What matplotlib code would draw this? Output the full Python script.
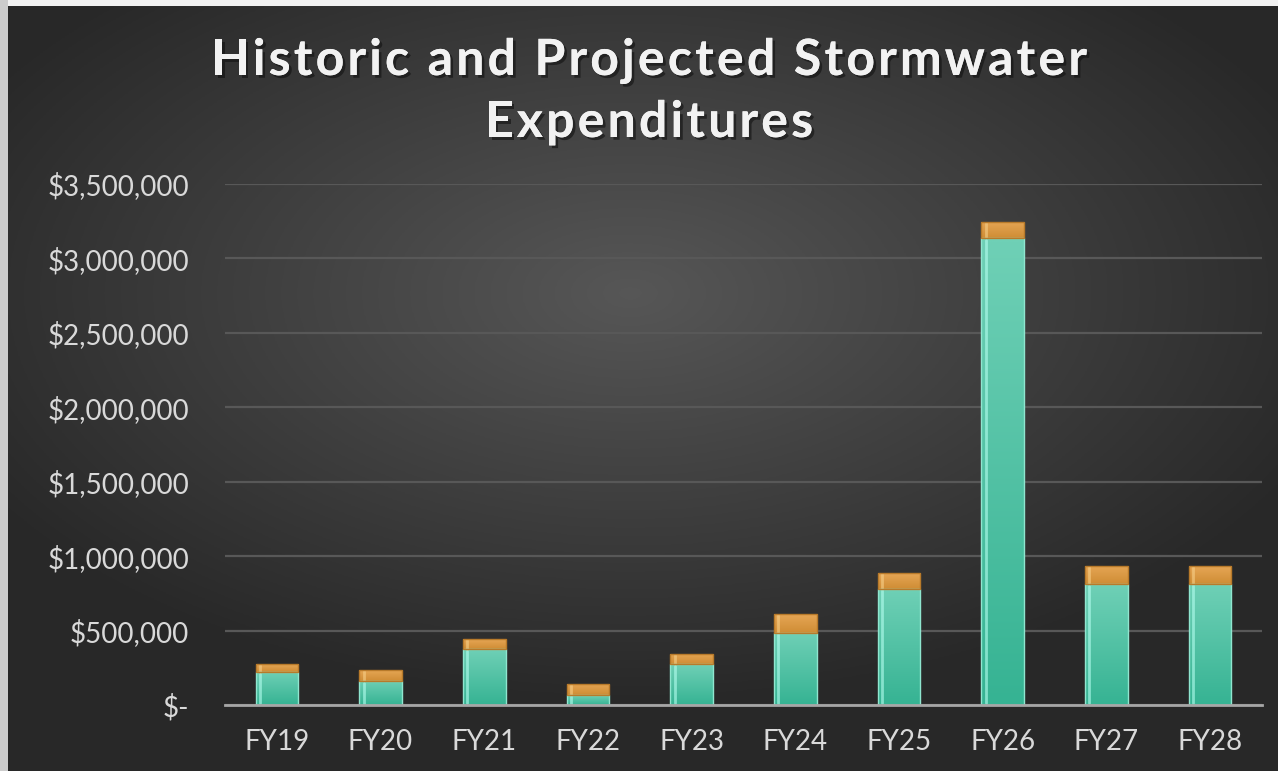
import numpy as np
import matplotlib.pyplot as plt
import matplotlib.patheffects as pe
from matplotlib.colors import to_rgb
from matplotlib.ticker import FuncFormatter

years = ["FY19", "FY20", "FY21", "FY22", "FY23", "FY24", "FY25", "FY26", "FY27", "FY28"]
base_cost = [222000, 163000, 376000, 67000, 274000, 486000, 782000, 3136000, 811000, 815000]
extra_cost = [53000, 72000, 65000, 74000, 69000, 126000, 105000, 110000, 123000, 119000]

title_lines = ["Historic and Projected Stormwater", "Expenditures"]
yticks = [0, 500000, 1000000, 1500000, 2000000, 2500000, 3000000, 3500000]

W, H = 1278, 771

def money(v, pos):
    if v == 0:
        return "$-"
    return "${:,.0f}".format(v)

def fill_gradient(ax, patch, top_col, bot_col, edge_col):
    x, y = patch.get_x(), patch.get_y()
    w, h = patch.get_width(), patch.get_height()
    t = np.linspace(0, 1, 64).reshape(-1, 1)
    top = np.array(to_rgb(top_col))
    bot = np.array(to_rgb(bot_col))
    img = bot + (top - bot) * t[..., None]
    img = np.repeat(img, 2, axis=1)
    im = ax.imshow(img, extent=[x, x + w, y, y + h], origin="lower",
                   aspect="auto", zorder=3, interpolation="bilinear")
    im.set_clip_path(patch)
    # shine stripe on the left side
    ax.plot([x + w * 0.1, x + w * 0.1], [y + min(h * 0.05, 15000), y + h - min(h * 0.08, 12000)],
            color=edge_col, lw=2, alpha=0.6, zorder=4, solid_capstyle="round")

def spaced_text(fig, s, xc, yb, track, **kw):
    # draw text char by char with extra letter spacing (pixels)
    r = fig.canvas.get_renderer()
    def wid(txt):
        t = fig.text(0, 0, txt, **kw)
        w = t.get_window_extent(r).width
        t.remove()
        return w
    total = wid(s) + (len(s) - 1) * track
    x0 = xc - total / 2
    for i, ch in enumerate(s):
        if ch == " ":
            continue
        left = wid(s[:i + 1]) - wid(ch) + i * track
        fig.text((x0 + left) / W, 1 - yb / H, ch, ha="left", va="baseline", **kw)

fig = plt.figure(figsize=(W / 100, H / 100), dpi=100)
fig.patch.set_facecolor("#f2f2f2")

# dark backdrop, lighter toward the middle
bg = fig.add_axes([8 / W, 0, 1 - 8 / W, 1 - 6 / H])
gx, gy = np.meshgrid(np.linspace(-1, 1, 400), np.linspace(-1, 1, 260))
r = np.sqrt(((gx + 0.02) / 1.1) ** 2 + ((gy - 0.25) / 1.0) ** 2)
shade = np.clip(0.34 - 0.17 * r, 0.16, 0.34)
bg.imshow(np.dstack([shade] * 3), extent=[0, 1, 0, 1], aspect="auto", origin="lower")
bg.axis("off")
side = fig.add_axes([0, 0, 8 / W, 1])
side.axis("off")
side.add_patch(plt.Rectangle((0, 0), 1, 1, color="#cccccc", transform=side.transAxes))

ax = fig.add_axes([225 / W, 1 - 705 / H, (1262 - 225) / W, (705 - 184) / H])
ax.set_facecolor("none")
x = np.arange(len(years))
b1 = ax.bar(x, base_cost, width=0.41, color="none", edgecolor="#8fe6cf", linewidth=1.0, zorder=5)
b2 = ax.bar(x, extra_cost, width=0.41, bottom=base_cost, color="none",
            edgecolor="#b87a2a", linewidth=1.0, zorder=5)
for p in b1:
    fill_gradient(ax, p, "#6fd0b6", "#36b393", "#b5fff0")
for p in b2:
    fill_gradient(ax, p, "#e6a655", "#cf8d35", "#f7d08a")

ax.set_xlim(-0.5, len(years) - 0.5)
ax.set_ylim(0, 3500000)
ax.set_yticks(yticks)
ax.yaxis.set_major_formatter(FuncFormatter(money))
ax.set_xticks(x)
ax.set_xticklabels(years)
ax.grid(axis="y", color="#585858", lw=1.6, zorder=1)
ax.set_axisbelow(True)
for s in ["left", "right", "top"]:
    ax.spines[s].set_visible(False)
ax.spines["bottom"].set_color("#a6a6a6")
ax.spines["bottom"].set_linewidth(2)
ax.spines["bottom"].set_zorder(6)
ax.tick_params(axis="both", length=0, colors="#d9d9d9", labelsize=20)
ax.tick_params(axis="y", pad=26)
ax.tick_params(axis="x", pad=17)
for lab in ax.get_xticklabels() + ax.get_yticklabels():
    lab.set_family("Lato")

shadow = [pe.withSimplePatchShadow(offset=(2, -2), shadow_rgbFace="#111111", alpha=0.6), pe.Normal()]
spaced_text(fig, title_lines[0], 649, 75, 3.2, fontsize=36, fontweight="bold",
            family="Lato", color="#f2f2f2", path_effects=shadow)
spaced_text(fig, title_lines[1], 649, 137, 3.2, fontsize=36, fontweight="bold",
            family="Lato", color="#f2f2f2", path_effects=shadow)

fig.savefig("out.png", dpi=100, facecolor=fig.get_facecolor())
